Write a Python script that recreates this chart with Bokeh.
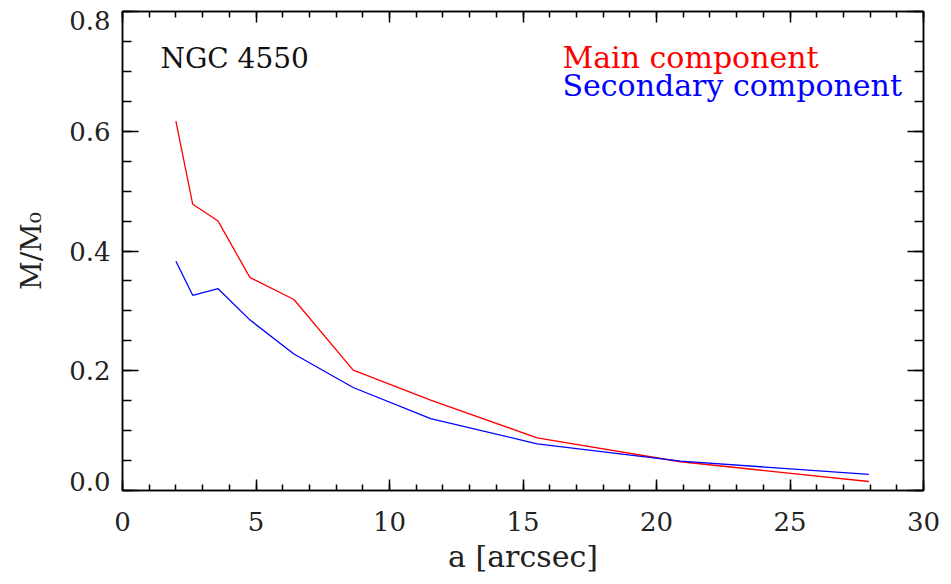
from bokeh.plotting import figure
from bokeh.models import (Range1d, LinearAxis, SingleIntervalTicker, FixedTicker, Label,
                          CustomJSTickFormatter)
from bokeh.embed import file_html
from bokeh.resources import INLINE

# Data
radius = [2.0, 2.63, 3.58, 4.77, 6.42, 8.64, 11.54, 15.53, 20.9, 27.95]
main_component = [0.617, 0.478, 0.450, 0.356, 0.319, 0.201, 0.151, 0.088, 0.048, 0.015]
secondary_component = [0.383, 0.326, 0.337, 0.285, 0.228, 0.172, 0.120, 0.078, 0.049, 0.027]
series_names = ["Main component", "Secondary component"]
title_text = "NGC 4550"
x_label = "a [arcsec]"
y_label = "M/M\u2080"
y_ticks = [0.0, 0.2, 0.4, 0.6, 0.8]

FONT = "DejaVu Serif"
TICK_SIZE = "26px"
Y0, Y1 = 0.0, 0.8
FRAME_H = 479  # pixels (584 - 11 - 94)

p = figure(width=951, height=584, output_backend="svg", toolbar_location=None,
           x_range=Range1d(0, 30), y_range=Range1d(Y0, Y1),
           min_border_left=122, min_border_right=28, min_border_top=11, min_border_bottom=94,
           x_axis_label=x_label)
p.grid.visible = False
p.outline_line_color = "black"
p.outline_line_width = 1.5
p.background_fill_color = "white"
p.border_fill_color = "white"

def style_axis(ax, major_len, minor_len):
    ax.axis_line_color = "black"
    ax.axis_line_width = 1.5
    ax.major_tick_in = major_len
    ax.major_tick_out = 0
    ax.minor_tick_in = minor_len
    ax.minor_tick_out = 0
    ax.major_tick_line_width = 1.5
    ax.minor_tick_line_width = 1.5
    ax.major_tick_line_color = "black"
    ax.minor_tick_line_color = "black"
    ax.major_label_text_font = FONT
    ax.major_label_text_font_size = TICK_SIZE
    ax.major_label_text_color = "#222222"
    ax.axis_label_text_font = FONT
    ax.axis_label_text_font_size = "30px"
    ax.axis_label_text_font_style = "normal"
    ax.axis_label_text_color = "#222222"

def ticks_only(ax):
    ax.major_label_text_font_size = "0px"
    ax.major_label_text_alpha = 0
    ax.major_label_standoff = 0
    ax.formatter = CustomJSTickFormatter(code="return '';")

xa = p.xaxis[0]
xa.ticker = SingleIntervalTicker(interval=5, num_minor_ticks=5)
style_axis(xa, 11, 6)
xa.major_label_standoff = 21
xa.axis_label_standoff = 5

# inner left axis: ticks only
ya = p.yaxis[0]
ya.ticker = SingleIntervalTicker(interval=0.2, num_minor_ticks=4)
style_axis(ya, 16, 9)
ticks_only(ya)

# outer left axis: labels only; end labels nudged inside the frame (as IDL does)
nudge = 9 * (Y1 - Y0) / FRAME_H
label_pos = [y_ticks[0] + nudge] + y_ticks[1:-1] + [y_ticks[-1] - nudge]
yl = LinearAxis(ticker=FixedTicker(ticks=label_pos, minor_ticks=[]), axis_label=y_label)
style_axis(yl, 0, 0)
yl.axis_line_color = None
yl.major_tick_line_color = None
yl.minor_tick_line_color = None
yl.major_label_standoff = 12
yl.axis_label_standoff = 18
yl.axis_label_text_font_size = "28px"
yl.formatter = CustomJSTickFormatter(code="return (Math.round(tick / 0.2) * 0.2).toFixed(1);")
p.add_layout(yl, "left")

top = LinearAxis(ticker=SingleIntervalTicker(interval=5, num_minor_ticks=5))
style_axis(top, 11, 6)
ticks_only(top)
p.add_layout(top, "above")

right = LinearAxis(ticker=SingleIntervalTicker(interval=0.2, num_minor_ticks=4))
style_axis(right, 16, 9)
ticks_only(right)
p.add_layout(right, "right")

p.line(radius, main_component, line_color="#ff0000", line_width=1.3)
p.line(radius, secondary_component, line_color="#0000ff", line_width=1.3)

p.add_layout(Label(x=1.42, y=0.721, text=title_text, text_font=FONT, text_font_size="28px",
                   text_color="#111111", text_baseline="alphabetic"))
p.add_layout(Label(x=16.48, y=0.7237, text=series_names[0], text_font=FONT, text_font_size="30px",
                   text_color="#ff0000", text_baseline="alphabetic"))
p.add_layout(Label(x=16.48, y=0.676, text=series_names[1], text_font=FONT, text_font_size="30px",
                   text_color="#0000ff", text_baseline="alphabetic"))

open("out.html", "w").write(file_html(p, INLINE))
